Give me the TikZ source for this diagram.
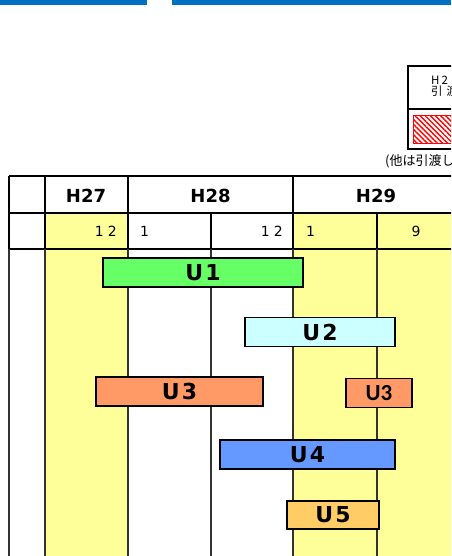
\documentclass[tikz,border=0pt]{standalone}
\usepackage{fontspec}
\setmainfont{DejaVu Sans}
\newfontfamily\jpfont{Noto Sans CJK JP}
\newfontfamily\calfont{Carlito}
\usepackage{tikz}
\usetikzlibrary{patterns.meta}
\usepackage{xcolor}
\definecolor{topblue}{HTML}{0070C0}
\definecolor{yellowcol}{HTML}{FFFF99}
\definecolor{gridgray}{HTML}{333333}
\definecolor{ucolA}{HTML}{66FF66}
\definecolor{ucolB}{HTML}{CCFFFF}
\definecolor{ucolC}{HTML}{FF9966}
\definecolor{ucolD}{HTML}{6699FF}
\definecolor{ucolE}{HTML}{FFCC66}

\begin{document}
\begin{tikzpicture}[x=1pt, y=-1pt]
    % bar style
    \tikzstyle{bar}=[
      draw,
      rectangle,
      line width=1.5pt,
      inner sep=0pt,
      font=\bfseries\fontsize{22}{22}\selectfont
    ]
    \tikzstyle{head}=[font=\bfseries\fontsize{18}{18}\selectfont]
    \tikzstyle{month}=[font=\fontsize{14}{14}\selectfont, inner sep=0pt]

    \useasboundingbox (0,0) rectangle (451,556);
    \clip (0,0) rectangle (451,556);

    % Top bars
    \fill[topblue] (0,0) rectangle (147,5);
    \fill[topblue] (172,0) rectangle (451,5);

    % Legend
    \draw[line width=1.2pt] (408,66) rectangle (470,149);
    \draw[line width=1.2pt] (408,109) -- (470,109);
    \node[anchor=west, inner sep=0pt, font=\jpfont\fontsize{11.5}{11}\selectfont, align=left] (legtext) at (431,86) {H\kern2pt 2\\引\kern4pt 渡};
    \node[draw=red, line width=0.8pt, pattern={Lines[angle=-45,distance=3.6pt,line width=1.4pt]}, pattern color=red,
          minimum width=50pt, minimum height=28pt, anchor=north west, inner sep=0pt] (hatch) at (413,115) {};
    \node[anchor=west, inner sep=0pt, font=\jpfont\fontsize{13}{13}\selectfont] (legnote) at (385,161) {(他は引渡し};

    % Yellow columns
    \fill[yellowcol] (45,213) rectangle (128,556);
    \fill[yellowcol] (293,213) rectangle (470,556);

    % Table lines
    \draw[line width=1.2pt] (9,176) -- (470,176);
    \draw[line width=1.2pt] (9,213) -- (470,213);
    \draw[line width=1.2pt] (9,249) -- (470,249);
    \draw[line width=1.2pt] (9,176) -- (9,249);
    \draw[line width=1.2pt] (45,176) -- (45,249);
    \draw[line width=1.2pt] (128,176) -- (128,249);
    \draw[line width=1.2pt] (211,213) -- (211,249);
    \draw[line width=1.2pt] (293,176) -- (293,249);
    \draw[line width=1.2pt] (377,213) -- (377,249);

    % Body grid lines
    \foreach \xx in {9,45,128,211,293,377}
      \draw[gridgray, line width=1.5pt] (\xx,249) -- (\xx,556);

    % Years
    \node[head] (h27) at (86,196) {H27};
    \node[head] (h28) at (210.5,196) {H28};
    \node[head] (h29) at (376,196) {H29};

    % Months
    \node[month, anchor=east] (m1) at (117,231) {1\kern4pt 2};
    \node[month, anchor=west] (m2) at (140,231) {1};
    \node[month, anchor=east] (m3) at (283,231) {1\kern4pt 2};
    \node[month, anchor=west] (m4) at (306,231) {1};
    \node[month] (m5) at (416,231) {9};

    % Bars
    \node[bar, fill=ucolA, minimum width=200pt, minimum height=29pt] (u1) at (203,272.5) {U\kern2pt 1};
    \node[bar, fill=ucolB, minimum width=150pt, minimum height=29pt] (u2) at (320,332) {U\kern2pt 2};
    \node[bar, fill=ucolC, minimum width=167pt, minimum height=29pt] (u3a) at (179.5,391.5) {U\kern2pt 3};
    \node[bar, fill=ucolC, minimum width=66pt, minimum height=29pt, font=\calfont\bfseries\fontsize{23}{23}\selectfont, line width=1.2pt] (u3b) at (379,393) {U3};
    \node[bar, fill=ucolD, minimum width=175pt, minimum height=29pt] (u4) at (307.5,454.5) {U\kern2pt 4};
    \node[bar, fill=ucolE, minimum width=92pt, minimum height=28pt] (u5) at (333,515) {U\kern2pt 5};
  \end{tikzpicture}
\end{document}
